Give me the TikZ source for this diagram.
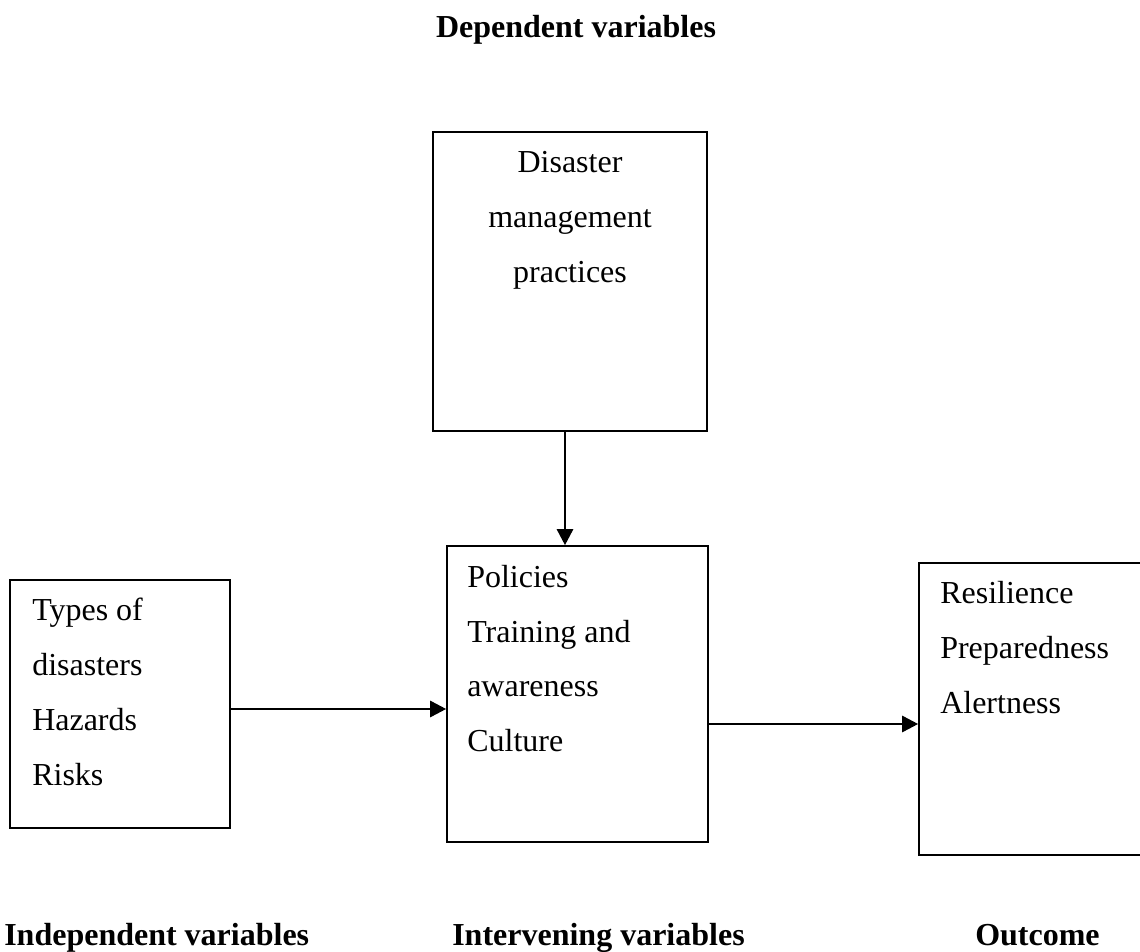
\documentclass[tikz,border=0pt]{standalone}
\usepackage{fontspec}
\setmainfont{Liberation Serif}
\usetikzlibrary{fit,arrows.meta}
\begin{document}
\begin{tikzpicture}[x=0.75pt,y=-0.75pt,
  box/.style={draw, line width=1.2pt, inner sep=0pt},
  txt/.style={font=\fontsize{24}{24}\selectfont, inner sep=0pt, anchor=base west},
  ctxt/.style={font=\fontsize{24}{24}\selectfont, inner sep=0pt, anchor=base},
  head/.style={font=\fontsize{24}{24}\selectfont\bfseries, inner sep=0pt, anchor=base west},
  arr/.style={line width=2pt, -{Triangle[length=12pt,width=12pt]}}]
\useasboundingbox (0,0) rectangle (1140,952);
\fill[white] (0,0) rectangle (1140,952);

% boxes
\node[box, fit={(433,132) (707,431)}] (dmp) {};
\node[box, fit={(447,546) (708,842)}] (mid) {};
\node[box, fit={(10,580) (230,828)}] (ind) {};
\node[box, fit={(919,563) (1142,855)}] (out) {};

% headings
\node[head, anchor=base] (hdep) at (576,38) {Dependent variables};
\node[head] (hind) at (4,945) {Independent variables};
\node[head] (hint) at (452,945) {Intervening variables};
\node[head] (hout) at (975,945) {Outcome};

% top box text
\node[ctxt] (d1) at (570,173) {Disaster};
\node[ctxt] (d2) at (570,228) {management};
\node[ctxt] (d3) at (570,283) {practices};

% middle box text
\node[txt] (m1) at (467,587) {Policies};
\node[txt] (m2) at (467,642) {Training and};
\node[txt] (m3) at (467,696) {awareness};
\node[txt] (m4) at (467,751) {Culture};

% left box text
\node[txt] (l1) at (32,620) {Types of};
\node[txt] (l2) at (32,675) {disasters};
\node[txt] (l3) at (32,730) {Hazards};
\node[txt] (l4) at (32,785) {Risks};

% right box text
\node[txt] (r1) at (940,603) {Resilience};
\node[txt] (r2) at (940,658) {Preparedness};
\node[txt] (r3) at (940,713) {Alertness};

% connectors
\draw[arr] (dmp.south -| 565,0) -- (mid.north -| 565,0);
\draw[arr] (ind.east |- 0,709) -- (mid.west |- 0,709);
\draw[arr] (mid.east |- 0,724) -- (out.west |- 0,724);
\end{tikzpicture}
\end{document}
